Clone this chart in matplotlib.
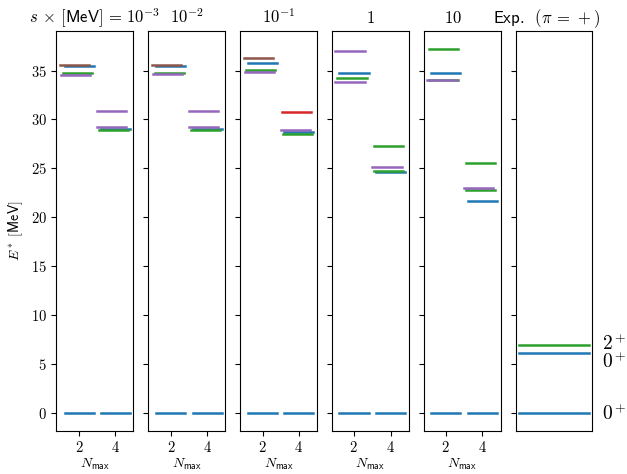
import numpy as np
import matplotlib
matplotlib.use("Agg")
import matplotlib.pyplot as plt
from matplotlib.ticker import FuncFormatter
import matplotlib.transforms as mtransforms

plt.rcParams['mathtext.fontset'] = 'cm'

# flow parameter titles
s_titles = [r"$s \,\times\, \mathsf{[MeV]} \,=\, 10^{-3}$", r"$10^{-2}$",
            r"$10^{-1}$", r"$1$", r"$10$"]
title_x = [0.5, 0.5, 0.5, 0.5, 0.38]
nmax = [2, 4]

# excitation energies (MeV) and colour index, Nmax = 2
E_n2 = [
    [0.0, 35.42, 34.70, 34.56, 35.52],
    [0.0, 35.42, 34.74, 34.60, 35.55],
    [0.0, 35.76, 35.01, 34.84, 36.27],
    [0.0, 34.80, 34.19, 37.02, 33.81],
    [0.0, 34.74, 37.19, 34.00, 34.02],
]
C_n2 = [
    [0, 0, 2, 4, 5],
    [0, 0, 2, 4, 5],
    [0, 0, 2, 4, 5],
    [0, 0, 2, 4, 4],
    [0, 0, 2, 2, 4],
]
# Nmax = 4
E_n4 = [
    [0.0, 29.00, 28.87, 30.88, 29.21],
    [0.0, 29.00, 28.87, 30.88, 29.21],
    [0.0, 28.70, 28.53, 30.71, 28.87],
    [0.0, 24.57, 24.77, 27.26, 25.08],
    [0.0, 21.63, 22.73, 25.49, 23.03],
]
C_n4 = [
    [0, 0, 2, 4, 4],
    [0, 0, 2, 4, 4],
    [0, 0, 2, 3, 4],
    [0, 0, 2, 2, 4],
    [0, 0, 2, 2, 4],
]

# experiment
E_exp = [0.0, 6.05, 6.92]
C_exp = [0, 0, 2]
J_exp = [r"$0^+$", r"$0^+$", r"$2^+$"]
J_pos = [-0.1, 5.2, 7.0]

colors = plt.rcParams['axes.prop_cycle'].by_key()['color']

fig, axes = plt.subplots(1, 6, sharey=True, figsize=(6.27, 4.74), dpi=100)
fig.subplots_adjust(left=0.0901, right=0.9448, bottom=0.0913, top=0.9346,
                    wspace=0.195)

fmt = FuncFormatter(lambda v, _: f"${v:g}$")

for i in range(5):
    ax = axes[i]
    for n, E, C in [(nmax[0], E_n2[i], C_n2[i]), (nmax[1], E_n4[i], C_n4[i])]:
        order = np.argsort(C, kind='stable')
        for j in order:
            sh = -0.05 * C[j]
            ax.plot([n - 0.8 + sh, n + 0.8 + sh], [E[j], E[j]],
                    color=colors[C[j]], lw=1.8)
    ax.set_xticks(nmax)
    ax.xaxis.set_major_formatter(fmt)
    ax.set_xlabel(r"$N_{\mathsf{max}}$", fontsize=10, labelpad=1)
    ax.set_title(s_titles[i], fontsize=12, x=title_x[i])

ax = axes[5]
for E, C in zip(E_exp, C_exp):
    ax.plot([0, 1], [E, E], color=colors[C], lw=1.8)
ax.set_xticks([])
ax.set_title(r"$\mathsf{Exp.}\;\; (\pi \,=\, +)$", fontsize=12, x=0.41)
trans = mtransforms.blended_transform_factory(ax.transAxes, ax.transData)
for y, lab in zip(J_pos, J_exp):
    ax.text(1.12, y, lab, transform=trans, fontsize=14, va='center', ha='left')

axes[0].set_yticks(np.arange(0, 36, 5))
axes[0].yaxis.set_major_formatter(fmt)
axes[0].set_ylabel(r"$E^*\ \mathsf{[MeV]}$", fontsize=10)
for ax in axes:
    ax.tick_params(labelsize=10.5)

fig.savefig("out.png", dpi=100)
